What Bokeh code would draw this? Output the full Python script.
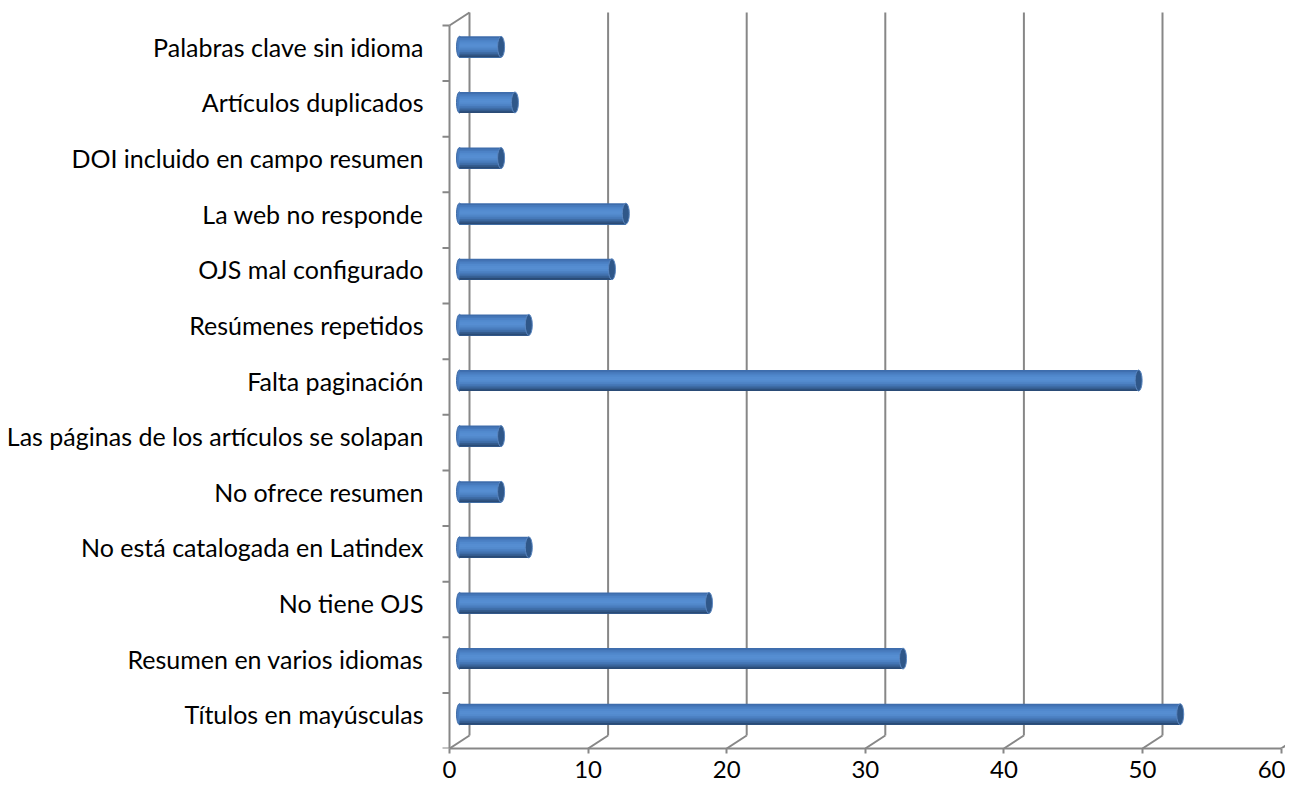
from bokeh.plotting import figure
from bokeh.models import FixedTicker, Range1d
from bokeh.embed import file_html
from bokeh.resources import INLINE

# ---------------- data ----------------
categories = [
    "Títulos en mayúsculas",
    "Resumen en varios idiomas",
    "No tiene OJS",
    "No está catalogada en Latindex",
    "No ofrece resumen",
    "Las páginas de los artículos se solapan",
    "Falta paginación",
    "Resúmenes repetidos",
    "OJS mal configurado",
    "La web no responde",
    "DOI incluido en campo resumen",
    "Artículos duplicados",
    "Palabras clave sin idioma",
]
values = [52, 32, 18, 5, 3, 3, 49, 5, 11, 12, 3, 4, 3]
x_ticks = [0, 10, 20, 30, 40, 50, 60]

# ---------------- layout constants ----------------
W, H = 1285, 783
PX = 13.86          # px per x unit (front plane)
PY = 55.615         # px per category (front plane)
FRAME_L = 441
ORIGIN_X = 449      # px of x=0 on front plane
FRAME_H = 748
DX = 20 / PX        # depth offset (x)
DY = 13 / PY        # depth offset (y)
BAR_H = 21 / PY
N = len(categories)
FONT = "Lato"
FSIZE = "25px"
GRID = "#878787"

x_start = -(ORIGIN_X - FRAME_L) / PX
x_end = x_start + (W - FRAME_L) / PX
y_end = FRAME_H / PY

p = figure(width=W, height=H, output_backend="svg", toolbar_location=None,
           x_range=Range1d(x_start, x_end), y_range=Range1d(0, y_end),
           min_border_left=FRAME_L, min_border_right=0, min_border_top=0,
           min_border_bottom=H - FRAME_H)
p.outline_line_color = None
p.xgrid.visible = False
p.ygrid.visible = False
p.background_fill_color = "white"
p.border_fill_color = "white"

# ---------------- 3D frame (walls / floor) ----------------
gx = [t + DX for t in x_ticks]
p.segment(x0=gx, y0=[DY] * len(gx), x1=gx, y1=[N + DY] * len(gx),
          line_color=GRID, line_width=2)
p.segment(x0=x_ticks, y0=[0] * len(x_ticks), x1=gx, y1=[DY] * len(gx),
          line_color=GRID, line_width=2)
# left wall front edge + top edge
p.segment(x0=[0, 0], y0=[0, N], x1=[0, DX], y1=[N, N + DY],
          line_color=GRID, line_width=2)
# category boundary ticks
b = list(range(N + 1))
p.segment(x0=[-7 / PX] * len(b), y0=b, x1=[0] * len(b), y1=b,
          line_color=GRID, line_width=2)

# ---------------- cylinders ----------------
yc = [i + 0.5 + DY / 2 for i in range(N)]
x_left = DX / 2
rights = [v + DX / 2 for v in values]

p.ellipse(x=[x_left] * N, y=yc, width=6 / PX, height=BAR_H,
          fill_color="#4a7dc0", line_color="#3d6aa6", line_width=1)

shade = ["#3e6dac", "#4679bb", "#4c82c6", "#5189cd", "#558dd1", "#568ed2",
         "#538acd", "#4d82c4", "#4678b8", "#3e6ca6", "#345c8f", "#2a4b76"]
nb = len(shade)
bh = BAR_H / nb
bottom = [y - BAR_H / 2 for y in yc]
for k, c in enumerate(shade):
    top_off = BAR_H / 2 - k * bh
    p.quad(left=[x_left] * N, right=rights,
           top=[y + top_off for y in yc], bottom=bottom,
           fill_color=c, line_color=None)

p.ellipse(x=rights, y=yc, width=7 / PX, height=BAR_H,
          fill_color="#2f5789", line_color="#5a86c0", line_width=1)

# ---------------- axes ----------------
xa = p.xaxis[0]
xa.ticker = FixedTicker(ticks=x_ticks)
xa.bounds = (0, 60)
xa.axis_line_color = GRID
xa.axis_line_width = 2
xa.major_tick_line_color = GRID
xa.major_tick_line_width = 2
xa.major_tick_in = 0
xa.major_tick_out = 5
xa.minor_tick_line_color = None
xa.major_label_standoff = 7
xa.major_label_text_font = FONT
xa.major_label_text_font_size = "24px"
xa.major_label_text_color = "#000000"

ya = p.yaxis[0]
ya.ticker = FixedTicker(ticks=yc)
ya.major_label_overrides = {y: c for y, c in zip(yc, categories)}
ya.axis_line_color = None
ya.major_tick_line_color = None
ya.minor_tick_line_color = None
ya.major_tick_in = 0
ya.major_tick_out = 0
ya.major_label_standoff = 18
ya.major_label_text_font = FONT
ya.major_label_text_font_size = FSIZE
ya.major_label_text_color = "#000000"

open("out.html", "w").write(file_html(p, INLINE))
